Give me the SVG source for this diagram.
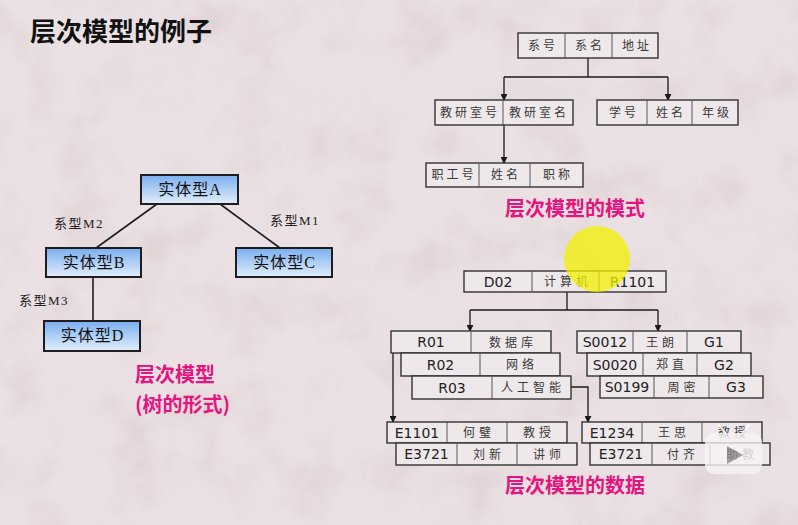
<svg xmlns="http://www.w3.org/2000/svg" width="798" height="525" viewBox="0 0 798 525">
  <defs>
    <linearGradient id="entityFill" x1="0" y1="0" x2="0" y2="1">
      <stop offset="0" stop-color="#7aaeef"/>
      <stop offset="1" stop-color="#e2eefb"/>
    </linearGradient>
    <filter id="grain" x="0" y="0" width="100%" height="100%">
      <feTurbulence type="fractalNoise" baseFrequency="0.018" numOctaves="4" seed="7"/>
      <feColorMatrix type="matrix" values="0 0 0 0 0.55  0 0 0 0 0.42  0 0 0 0 0.40  0 0 0 -1.6 0.9"/>
    </filter>
    <marker id="arrow" viewBox="0 0 8 8" refX="7" refY="4" markerWidth="7" markerHeight="7" markerUnits="userSpaceOnUse" orient="auto">
      <path d="M0,0 L8,4 L0,8 Z" fill="#1a1a1a"/>
    </marker>
    <style>
      .title { font-family: "Noto Sans CJK SC", "Noto Sans", sans-serif; font-size: 26px; font-weight: 700; fill: #111; }
      .pink { font-family: "Noto Sans CJK SC", "Noto Sans", sans-serif; font-size: 20px; font-weight: 700; fill: #e5157f; }
      .entity rect { fill: url(#entityFill); stroke: #1e1e1e; stroke-width: 2; }
      .entity text { font-family: "Liberation Serif", "Noto Sans CJK SC", serif; font-size: 16px; fill: #111; text-anchor: middle; letter-spacing: 1px; }
      .rel { font-family: "Liberation Serif", "Noto Sans CJK SC", serif; font-size: 13px; fill: #222; letter-spacing: 1.5px; }
      .tree { stroke: #1e1e1e; stroke-width: 1.6; fill: none; }
      .rec rect { fill: #efe8ea; stroke: #333; stroke-width: 1.4; }
      .rec line { stroke: #555; stroke-width: 1; }
      .cn { font-family: "Noto Sans CJK SC", sans-serif; font-size: 12px; fill: #3a3a3a; text-anchor: middle; letter-spacing: 4px; }
      .sc { letter-spacing: 3px; }
      .lat { font-family: "DejaVu Sans", "Liberation Sans", sans-serif; font-size: 14px; fill: #222; text-anchor: middle; }
      .link { stroke: #1a1a1a; stroke-width: 1.3; fill: none; }
      .arr { marker-end: url(#arrow); }
    </style>
  </defs>

  <!-- paper background -->
  <rect x="0" y="0" width="798" height="525" fill="#ebe1e4"/>
  <rect x="0" y="0" width="798" height="525" filter="url(#grain)" opacity="0.35"/>

  <text class="title" x="30" y="41">层次模型的例子</text>

  <!-- tree of entity types -->
  <g id="tree-links">
    <line class="tree" x1="157" y1="204" x2="96" y2="248"/>
    <line class="tree" x1="220" y1="204" x2="280" y2="248"/>
    <line class="tree" x1="93" y1="277" x2="93" y2="321"/>
    <text class="rel" x="54" y="228">系型M2</text>
    <text class="rel" x="270" y="225">系型M1</text>
    <text class="rel" x="19" y="305">系型M3</text>
  </g>
  <g id="entity-a" class="entity"><rect x="141" y="175" width="97" height="29"/><text x="190" y="195">实体型A</text></g>
  <g id="entity-b" class="entity"><rect x="46" y="248" width="95" height="29"/><text x="94" y="268">实体型B</text></g>
  <g id="entity-c" class="entity"><rect x="236" y="248" width="96" height="29"/><text x="284.5" y="268">实体型C</text></g>
  <g id="entity-d" class="entity"><rect x="44" y="321" width="96" height="30"/><text x="92.5" y="341">实体型D</text></g>

  <text class="pink" x="135" y="382">层次模型</text>
  <text class="pink" x="135" y="412">(树的形式)</text>

  <!-- schema -->
  <g id="schema-links">
    <line class="link" x1="588" y1="58" x2="588" y2="77"/>
    <line class="link" x1="504" y1="77" x2="668" y2="77"/>
    <line class="link arr" x1="504" y1="77" x2="504" y2="100"/>
    <line class="link arr" x1="668" y1="77" x2="668" y2="100"/>
    <line class="link arr" x1="504" y1="125" x2="504" y2="163"/>
  </g>
  <g id="schema-dept" class="rec">
    <rect x="518" y="33" width="140" height="25"/>
    <line x1="565" y1="33" x2="565" y2="58"/><line x1="612" y1="33" x2="612" y2="58"/>
    <text class="cn sc" x="543" y="50">系号</text><text class="cn sc" x="590" y="50">系名</text><text class="cn sc" x="637" y="50">地址</text>
  </g>
  <g id="schema-office" class="rec">
    <rect x="435" y="100" width="138" height="25"/>
    <line x1="503" y1="100" x2="503" y2="125"/>
    <text class="cn sc" x="470" y="117">教研室号</text><text class="cn sc" x="539" y="117">教研室名</text>
  </g>
  <g id="schema-student" class="rec">
    <rect x="597" y="100" width="141" height="25"/>
    <line x1="647" y1="100" x2="647" y2="125"/><line x1="692" y1="100" x2="692" y2="125"/>
    <text class="cn sc" x="624" y="117">学号</text><text class="cn sc" x="671" y="117">姓名</text><text class="cn sc" x="717" y="117">年级</text>
  </g>
  <g id="schema-staff" class="rec">
    <rect x="426" y="163" width="157" height="24"/>
    <line x1="479" y1="163" x2="479" y2="187"/><line x1="530" y1="163" x2="530" y2="187"/>
    <text class="cn sc" x="454" y="179">职工号</text><text class="cn sc" x="506" y="179">姓名</text><text class="cn sc" x="558" y="179">职称</text>
  </g>
  <text class="pink" x="505" y="216">层次模型的模式</text>

  <!-- data -->
  <g id="data-links">
    <line class="link" x1="567" y1="292" x2="567" y2="310"/>
    <line class="link" x1="470" y1="310" x2="658" y2="310"/>
    <line class="link arr" x1="470" y1="310" x2="470" y2="331"/>
    <line class="link arr" x1="658" y1="310" x2="658" y2="331"/>
    <line class="link arr" x1="393" y1="353" x2="393" y2="422"/>
    <polyline class="link arr" points="571,387 588,387 588,422"/>
  </g>
  <g id="dept-d02" class="rec">
    <rect x="464" y="271" width="202" height="21"/>
    <line x1="532" y1="271" x2="532" y2="292"/><line x1="599" y1="271" x2="599" y2="292"/>
    <text class="lat" x="498" y="287">D02</text><text class="cn" x="568" y="286">计算机</text><text class="lat" x="632.5" y="287">R1101</text>
  </g>
  <g id="office-r01" class="rec">
    <rect x="391" y="331" width="160" height="22"/>
    <line x1="471" y1="331" x2="471" y2="353"/>
    <text class="lat" x="431" y="347">R01</text><text class="cn" x="513" y="347">数据库</text>
  </g>
  <g id="office-r02" class="rec">
    <rect x="401" y="353" width="159" height="23"/>
    <line x1="480" y1="353" x2="480" y2="376"/>
    <text class="lat" x="440.5" y="370">R02</text><text class="cn" x="522" y="369">网络</text>
  </g>
  <g id="office-r03" class="rec">
    <rect x="412" y="376" width="159" height="23"/>
    <line x1="492" y1="376" x2="492" y2="399"/>
    <text class="lat" x="452" y="393">R03</text><text class="cn" x="533" y="392">人工智能</text>
  </g>
  <g id="student-s0012" class="rec">
    <rect x="577" y="331" width="164" height="22"/>
    <line x1="633" y1="331" x2="633" y2="353"/><line x1="687" y1="331" x2="687" y2="353"/>
    <text class="lat" x="605" y="347">S0012</text><text class="cn" x="662" y="347">王朗</text><text class="lat" x="714" y="347">G1</text>
  </g>
  <g id="student-s0020" class="rec">
    <rect x="587" y="353" width="164" height="23"/>
    <line x1="643" y1="353" x2="643" y2="376"/><line x1="697" y1="353" x2="697" y2="376"/>
    <text class="lat" x="615" y="370">S0020</text><text class="cn" x="672" y="369">郑直</text><text class="lat" x="724" y="370">G2</text>
  </g>
  <g id="student-s0199" class="rec">
    <rect x="600" y="376" width="163" height="22"/>
    <line x1="654" y1="376" x2="654" y2="398"/><line x1="709" y1="376" x2="709" y2="398"/>
    <text class="lat" x="627" y="392">S0199</text><text class="cn" x="683.5" y="392">周密</text><text class="lat" x="736" y="392">G3</text>
  </g>
  <g id="staff-e1101" class="rec">
    <rect x="387" y="422" width="180" height="21"/>
    <line x1="447" y1="422" x2="447" y2="443"/><line x1="507" y1="422" x2="507" y2="443"/>
    <text class="lat" x="417" y="438">E1101</text><text class="cn" x="479" y="437">何璧</text><text class="cn" x="539" y="437">教授</text>
  </g>
  <g id="staff-e3721" class="rec">
    <rect x="396" y="443" width="181" height="22"/>
    <line x1="457" y1="443" x2="457" y2="465"/><line x1="517" y1="443" x2="517" y2="465"/>
    <text class="lat" x="426.5" y="459">E3721</text><text class="cn" x="489" y="459">刘新</text><text class="cn" x="549" y="459">讲师</text>
  </g>
  <g id="staff-e1234" class="rec">
    <rect x="582" y="422" width="180" height="21"/>
    <line x1="642" y1="422" x2="642" y2="443"/><line x1="702" y1="422" x2="702" y2="443"/>
    <text class="lat" x="612" y="438">E1234</text><text class="cn" x="674" y="437">王思</text><text class="cn" x="734" y="437">教授</text>
  </g>
  <g id="staff-e3721b" class="rec">
    <rect x="590" y="443" width="180" height="22"/>
    <line x1="652" y1="443" x2="652" y2="465"/><line x1="710" y1="443" x2="710" y2="465"/>
    <text class="lat" x="621" y="459">E3721</text><text class="cn" x="683" y="459">付齐</text><text class="cn" x="742" y="459">助教</text>
  </g>
  <text class="pink" x="505" y="493">层次模型的数据</text>

  <!-- pointer highlight -->
  <circle cx="597" cy="259" r="33" fill="#f2f200" opacity="0.75"/>

  <!-- player button -->
  <g id="play-button" opacity="0.8">
    <line x1="719" y1="425" x2="726" y2="434" stroke="#fff" stroke-width="2.5" stroke-linecap="round"/>
    <line x1="749" y1="425" x2="742" y2="434" stroke="#fff" stroke-width="2.5" stroke-linecap="round"/>
    <rect x="705" y="433" width="57" height="41" rx="9" fill="#f7f4f5"/>
    <path d="M727,446 L743,455 L727,464 Z" fill="#8c8c8c"/>
  </g>
</svg>
